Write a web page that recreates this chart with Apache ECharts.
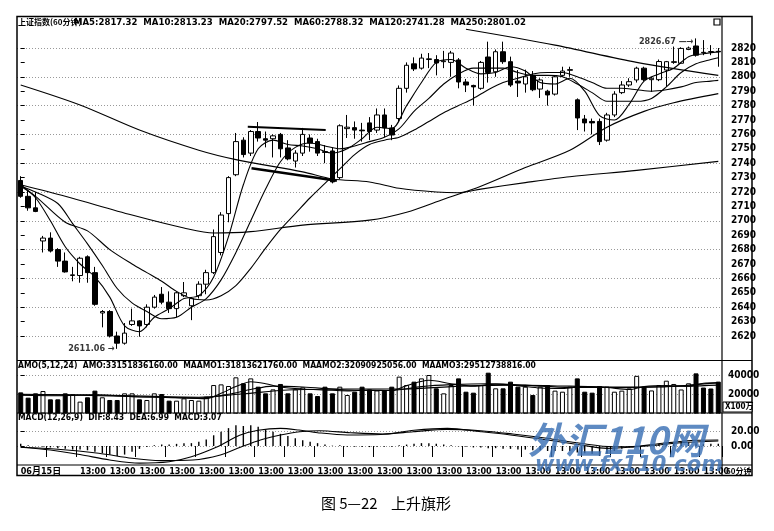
<!DOCTYPE html>
<html>
<head>
<meta charset="utf-8">
<title>上升旗形</title>
<script src="https://cdn.jsdelivr.net/npm/echarts@6/dist/echarts.min.js"></script>
<style>
html, body { margin: 0; padding: 0; background: #fff; }
#main { width: 774px; height: 531px; }
</style>
</head>
<body>
<div id="main"></div>
<script>
// 60分钟K线: [开, 收, 低, 高]
var kData = [
  [2728, 2717, 2716, 2731], [2717, 2709, 2707, 2721], [2709, 2706.5, 2706, 2720], [2686, 2688, 2678, 2689.5],
  [2688, 2679, 2678, 2692], [2680, 2672, 2668, 2681], [2672, 2664.5, 2664, 2678], [2662, 2662.5, 2658, 2668],
  [2662, 2674, 2657, 2675], [2675, 2664, 2657, 2676], [2664, 2642, 2641, 2668], [2636, 2637, 2626, 2638],
  [2637, 2620, 2619, 2638], [2620, 2615, 2611.06, 2623], [2615, 2622, 2614, 2629], [2628, 2630.5, 2627, 2639],
  [2630.5, 2627, 2619.5, 2631], [2628, 2640, 2626, 2642], [2640, 2647, 2639, 2648.5], [2649, 2643.5, 2642, 2654],
  [2643.5, 2639, 2636, 2651], [2639, 2650, 2633, 2651], [2648, 2650, 2647, 2657.5], [2641, 2646, 2631, 2647],
  [2648, 2656, 2646, 2658], [2656, 2664, 2649, 2666], [2664, 2689, 2663, 2694], [2678, 2704, 2676, 2706],
  [2705, 2730, 2699, 2731], [2732, 2755, 2731, 2761], [2756, 2746, 2744, 2758], [2747, 2762, 2745, 2763],
  [2762, 2757.5, 2755, 2768.6], [2757, 2756, 2751, 2762], [2757, 2759, 2744, 2760], [2760, 2750, 2744, 2761],
  [2750.6, 2743, 2742, 2756], [2741.5, 2747, 2737, 2749], [2747, 2760, 2745, 2764.5], [2757.5, 2754, 2748, 2760],
  [2755, 2747, 2745, 2757], [2748, 2747.5, 2740, 2752.6], [2748.5, 2727, 2726, 2751], [2730, 2766, 2729, 2767],
  [2764, 2765, 2757.5, 2773.5], [2764.7, 2763, 2757, 2769], [2763, 2762.5, 2755, 2768], [2768, 2762, 2756, 2772],
  [2763, 2773.5, 2761, 2778], [2773.5, 2764.5, 2758, 2778], [2764.5, 2759.6, 2756, 2766.6], [2771, 2792, 2769, 2794],
  [2792, 2808, 2789, 2810], [2809, 2805.5, 2804, 2813.5], [2806, 2813, 2805, 2816], [2812, 2812.5, 2806, 2816.5],
  [2812, 2809.6, 2801, 2815], [2810.5, 2811, 2806, 2818], [2810, 2816.5, 2800, 2818], [2811.7, 2796.4, 2792, 2813],
  [2796.4, 2794.3, 2789.4, 2798.5], [2794, 2793, 2780, 2794.5], [2792, 2810, 2791, 2811], [2813.75, 2803, 2796, 2824.4],
  [2803.5, 2817.4, 2800, 2819], [2817.4, 2810.5, 2809, 2824.4], [2810.5, 2794.3, 2793, 2814], [2797, 2795.7, 2786, 2804.7],
  [2795, 2800, 2789, 2805], [2801, 2791, 2790, 2804], [2791.5, 2797.8, 2785.3, 2799], [2790, 2787.4, 2780, 2791],
  [2788, 2800, 2787, 2801], [2801, 2804, 2800, 2807], [2804.5, 2805, 2800, 2807], [2784, 2771.4, 2763, 2785],
  [2770.7, 2768, 2762, 2773.5], [2769, 2768, 2760, 2771], [2769, 2755, 2752.6, 2771], [2756, 2773.5, 2755, 2775],
  [2773.5, 2788, 2772, 2790], [2789, 2794.3, 2788, 2797], [2794.3, 2796.6, 2793, 2799], [2797.8, 2806, 2796, 2807],
  [2806, 2798, 2797, 2807], [2798, 2799, 2789.5, 2800], [2798, 2810.6, 2797, 2812], [2804.7, 2810.5, 2793, 2811],
  [2810, 2810.5, 2809, 2821], [2809.4, 2819.7, 2809, 2820.5], [2819, 2820, 2818.5, 2821], [2821.4, 2815, 2814, 2826.67],
  [2817, 2816.7, 2815, 2825.5], [2817.5, 2817.4, 2815, 2822], [2817.7, 2817.3, 2807, 2820]
];

// 均线 [序号, 数值]
var ma5 = [[0,2725],[2,2716],[4,2700],[6,2682],[8,2670],[10,2661],[12,2647],[14,2627],[16,2623],[18,2633],[20,2639],[22,2646],[24,2648],[26,2661],[28,2689],[30,2725],[32,2750],[34,2756],[36,2753],[38,2752],[40,2750],[42,2747],[44,2750],[46,2757],[48,2765],[50,2764],[52,2780],[54,2796],[56,2810],[58,2812],[60,2806],[62,2802],[64,2803],[66,2807],[68,2804],[70,2796],[72,2795],[74,2799],[76,2790],[78,2773],[80,2770],[82,2781],[84,2797],[86,2802],[88,2806],[90,2814],[92,2816],[94,2817.32]];
var ma10 = [[0,2724],[2,2720],[5,2712],[7,2698],[9,2684],[11,2669],[13,2653],[15,2643],[17,2637],[19,2632],[21,2633],[23,2640],[25,2646],[27,2659],[29,2678],[31,2700],[33,2722],[35,2741],[37,2751],[39,2754],[41,2752],[43,2750],[45,2752],[47,2755],[49,2758],[51,2764],[53,2776],[55,2785],[57,2795],[59,2802],[61,2806],[63,2806],[65,2806],[67,2803],[69,2801],[71,2801],[73,2800],[75,2795],[77,2789],[79,2783],[81,2783],[83,2783],[85,2785],[87,2793],[89,2803],[91,2809],[93,2812],[94,2813.23]];
var ma20 = [[0,2724],[2,2717],[6,2699],[9,2693],[12,2680],[15,2670],[17,2664],[19,2658],[21,2651],[23,2646],[25,2645],[27,2648],[29,2655],[31,2667],[33,2681],[35,2694],[37,2705],[39,2716],[41,2726],[43,2736],[45,2746],[47,2753],[49,2756],[51,2758],[53,2763],[55,2769],[57,2775],[59,2780],[61,2785],[63,2791],[65,2796],[67,2799],[69,2802],[71,2803],[73,2803],[75,2800],[77,2796],[79,2792],[81,2792],[83,2791],[85,2790],[87,2791],[89,2793],[91,2796],[93,2797],[94,2797.52]];
var ma60 = [[0,2725],[6,2717],[15,2704],[22,2695],[26,2691.5],[31,2692.5],[38,2697],[47,2700.5],[52,2706],[57,2715],[62,2724],[68,2737],[74,2749],[79,2765],[84,2776],[88,2782],[94,2788.32]];
var ma120 = [[0,2794.3],[8,2780.4],[16,2763],[24,2749],[29,2742.5],[38,2734],[42,2729],[47,2727],[51,2722.6],[56,2720],[59,2719.5],[62,2722],[68,2726.5],[74,2730.6],[83,2735],[94,2741.28]];
var ma250 = [[60,2833],[72,2822],[83,2810],[94,2801.02]];

// 旗形上下边线
var flagTop = [[30.6, 2765.3], [41.1, 2763]];
var flagBottom = [[31.1, 2736.5], [42.6, 2727.8]];

// 成交额 (X100万)
var amo = [
  22000,16500,21000,23400,14800,14800,21000,20000,12400,16900,
  23800,16900,14100,14100,21000,21000,14800,14100,21000,20300,
  13400,13400,15800,14100,13400,17500,29600,30300,28600,37600,
  31400,36500,27900,21000,25100,30700,21000,25100,27200,21000,
  18200,27900,21000,27900,19300,22700,27900,25100,24000,24450,
  27900,38300,29600,33100,36500,40000,26200,21000,29600,36500,
  22700,21700,29600,42400,26200,26200,33100,27900,27900,19300,
  27900,29600,23800,22700,27900,36500,22700,21700,28600,27900,
  22700,23800,26200,39100,27900,24000,29600,34100,30700,25000,
  31400,41700,27000,26000,33150
];
var maamo1 = [[0,19000],[5,18500],[10,19500],[15,17500],[20,17000],[25,15500],[27,21000],[29,28000],[31,33000],[33,31000],[35,27500],[38,25500],[41,24500],[44,23500],[47,24500],[50,24000],[52,29000],[55,34500],[58,31000],[61,28500],[64,30500],[67,29000],[70,26500],[73,26000],[76,28000],[79,27000],[82,25000],[84,28000],[87,29000],[90,28500],[92,31500],[94,31814]];
var maamo2 = [[0,19500],[8,19000],[16,17500],[24,16000],[28,20000],[31,25000],[34,28500],[38,27500],[44,24500],[50,24000],[54,28000],[58,30000],[63,31000],[68,29500],[74,27000],[80,27000],[86,27500],[90,29500],[94,32091]];
var maamo3 = [[0,20000],[12,19000],[24,17000],[30,20500],[36,24500],[44,25500],[52,25500],[58,28000],[66,29500],[74,28500],[82,27500],[90,28500],[94,29513]];

// MACD
var macdBar = [
  3,1,0,-1,-2,-3,-4,-5,-5,-6,
  -8,-10,-12,-14,-12,-8,-4,-1.5,1,2,
  2,3,4,4,6,9,15,20,25,29,
  28,29,27,23,20,17,14,11,8,6,
  4,2,0.5,1,-1,-1,-1.5,-1.5,-1,-1,
  -1,1,2,3,4,4,3,2,1,-0.5,
  -1,-2,-2,-3,-3,-4,-4,-5,-5,-6,
  -6,-7,-7,-7,-7,-9,-10,-11,-14,-11,
  -7,-4,-2,0.5,1,2,3,4,4,5,
  5,4,3,3,3.07
];
var dif = [[0,-1.8],[4,-5.6],[8,-12],[12,-19.5],[16,-24],[20,-22],[23,-15],[26.5,-1],[29.5,15],[32,22],[35,24.7],[37.5,22.3],[40,18.6],[44,15.4],[48.5,16],[53,22],[57.5,24.7],[62,20],[66,15.4],[71,8.4],[75.5,1.4],[79,-3.3],[82,-1.8],[86.5,3.8],[91,8],[94,8.43]];
var dea = [[0,-1.8],[5,-4.6],[10.5,-10.2],[15,-17.2],[18.8,-20.5],[23.2,-19.6],[26.9,-12.6],[29.6,-1.8],[32.3,8.4],[35,15.4],[37.6,20],[40.3,21.4],[44.4,18.6],[48.8,16.8],[52.9,20],[57.4,23.3],[62,21.4],[66.3,16.8],[70.9,10.8],[75.4,3.8],[79.8,-1],[84.4,0],[88.9,4.6],[94,6.99]];

// 时间轴刻度
var tickIndex = [0, 8, 12, 16, 20, 24, 28, 32, 36, 40, 44, 48, 52, 56, 60, 64, 68, 72, 76, 80, 84, 88, 92];
var tickText = ['06月15日', '13:00', '13:00', '13:00', '13:00', '13:00', '13:00', '13:00', '13:00', '13:00', '13:00', '13:00',
  '13:00', '13:00', '13:00', '13:00', '13:00', '13:00', '13:00', '13:00', '13:00', '13:00', '13:00'];

// 标注
var lowMark = { idx: 13, value: 2611.06 };
var highMark = { idx: 91, value: 2826.67 };

var FONT = '"Liberation Sans Narrow", "DejaVu Sans Condensed", "Noto Sans CJK SC", sans-serif';
var CJK = '"Noto Sans CJK SC", sans-serif';
var N = kData.length;
var cats = kData.map(function (d, i) { return String(i); });

var myChart = echarts.init(document.getElementById('main'));

function lineSeries(name, data, xi, yi, width) {
  return {
    name: name, type: 'line', data: data, xAxisIndex: xi, yAxisIndex: yi,
    smooth: 0.3, showSymbol: false, symbol: 'none', clip: false, silent: true,
    lineStyle: { color: '#000', width: width || 1.1 }
  };
}

function hiddenValueX(grid) {
  return { type: 'value', gridIndex: grid, min: -0.5, max: N - 0.5, show: false };
}

var axisText = { color: '#000', fontSize: 10, fontWeight: 'bold', fontFamily: FONT };
var dotted = { show: true, lineStyle: { color: '#999', type: [1, 2], width: 1 } };

var volData = amo.map(function (v, i) {
  var up = kData[i][1] >= kData[i][0];
  return { value: v, itemStyle: up ? { color: '#fff', borderColor: '#000', borderWidth: 1 } : { color: '#000', borderColor: '#000', borderWidth: 1 } };
});

var option = {
  animation: false,
  backgroundColor: '#fff',
  grid: [
    { left: 17, right: 52, top: 48, height: 288 },
    { left: 17, right: 52, top: 375, height: 38.6 },
    { left: 17, right: 52, top: 431.7, height: 14.3 }
  ],
  xAxis: [
    { type: 'category', gridIndex: 0, data: cats, show: false },
    hiddenValueX(0),
    { type: 'category', gridIndex: 1, data: cats, show: false },
    hiddenValueX(1),
    {
      type: 'category', gridIndex: 2, data: cats, position: 'bottom', offset: 19,
      axisLine: { show: false },
      axisTick: {
        show: true, length: 11, lineStyle: { color: '#000', width: 1 },
        interval: function (idx) { return idx > 0 && idx % 4 === 0; }
      },
      axisLabel: {
        show: true, align: 'left', margin: 2, color: '#000', fontSize: 9, fontWeight: 'bold', fontFamily: FONT,
        interval: function (idx) { return tickIndex.indexOf(idx) >= 0; },
        formatter: function (v, idx) { var k = tickIndex.indexOf(idx); return k >= 0 ? tickText[k] : ''; }
      },
      splitLine: { show: false }
    },
    hiddenValueX(2)
  ],
  yAxis: [
    {
      type: 'value', gridIndex: 0, position: 'right', min: 2620, max: 2820, interval: 10,
      axisLine: { show: false }, axisTick: { show: true, length: 4, lineStyle: { color: '#000' } },
      axisLabel: Object.assign({ margin: 9, formatter: function (v) { return String(v); } }, axisText),
      splitLine: { show: false }
    },
    {
      type: 'value', gridIndex: 1, position: 'right', min: 0, max: 40000, interval: 20000,
      axisLine: { show: false }, axisTick: { show: true, length: 4, lineStyle: { color: '#000' } },
      axisLabel: Object.assign({ margin: 6, formatter: function (v) { return v === 0 ? '' : String(v); } }, axisText),
      splitLine: dotted
    },
    {
      type: 'value', gridIndex: 2, position: 'right', min: 0, max: 20, interval: 20,
      axisLine: { show: false }, axisTick: { show: true, length: 4, lineStyle: { color: '#000' } },
      axisLabel: Object.assign({ margin: 9, formatter: function (v) { return v.toFixed(2); } }, axisText),
      splitLine: dotted
    },
    {
      type: 'value', gridIndex: 0, position: 'right', min: 2620, max: 2820, interval: 20,
      axisLine: { show: false }, axisTick: { show: false }, axisLabel: { show: false },
      splitLine: dotted
    }
  ],
  series: [
    {
      name: 'K', type: 'candlestick', data: kData, xAxisIndex: 0, yAxisIndex: 0,
      barWidth: 5, clip: false, silent: true,
      itemStyle: { color: '#fff', color0: '#000', borderColor: '#000', borderColor0: '#000', borderWidth: 1 }
    },
    lineSeries('MA5', ma5, 1, 0),
    lineSeries('MA10', ma10, 1, 0),
    lineSeries('MA20', ma20, 1, 0),
    lineSeries('MA60', ma60, 1, 0),
    lineSeries('MA120', ma120, 1, 0),
    lineSeries('MA250', ma250, 1, 0, 1.2),
    Object.assign(lineSeries('flagTop', flagTop, 1, 0, 2), { smooth: false }),
    Object.assign(lineSeries('flagBottom', flagBottom, 1, 0, 2.5), { smooth: false }),
    {
      name: 'marks', type: 'scatter', xAxisIndex: 1, yAxisIndex: 0, silent: true, clip: false,
      symbolSize: 1, itemStyle: { color: 'rgba(0,0,0,0)' },
      label: { show: true, position: 'left', distance: 2, color: '#000', fontSize: 9, fontWeight: 'bold', fontFamily: FONT },
      data: [
        { value: [lowMark.idx, lowMark.value], label: { formatter: lowMark.value.toFixed(2) + ' →' } },
        { value: [highMark.idx, highMark.value], label: { formatter: highMark.value.toFixed(2) + ' —→', offset: [0, 3] } }
      ]
    },
    {
      name: 'AMO', type: 'bar', data: volData, xAxisIndex: 2, yAxisIndex: 1,
      barWidth: 5, clip: false, silent: true
    },
    lineSeries('MAAMO1', maamo1, 3, 1),
    lineSeries('MAAMO2', maamo2, 3, 1),
    lineSeries('MAAMO3', maamo3, 3, 1),
    {
      name: 'MACD', type: 'bar', data: macdBar, xAxisIndex: 4, yAxisIndex: 2,
      barWidth: 1.4, clip: false, silent: true, itemStyle: { color: '#000' }
    },
    lineSeries('DIF', dif, 5, 2),
    lineSeries('DEA', dea, 5, 2)
  ],
  graphic: [
    { type: 'rect', silent: true, z: 100, shape: { x: 17, y: 16.5, width: 735, height: 459 }, style: { fill: null, stroke: '#000', lineWidth: 1.5 } },
    { type: 'line', silent: true, z: 100, shape: { x1: 722, y1: 16.5, x2: 722, y2: 475.5 }, style: { stroke: '#000', lineWidth: 1.2 } },
    { type: 'line', silent: true, z: 100, shape: { x1: 17, y1: 360.5, x2: 752, y2: 360.5 }, style: { stroke: '#000', lineWidth: 1.2 } },
    { type: 'line', silent: true, z: 100, shape: { x1: 17, y1: 413, x2: 752, y2: 413 }, style: { stroke: '#000', lineWidth: 1.2 } },
    { type: 'line', silent: true, z: 100, shape: { x1: 17, y1: 465, x2: 752, y2: 465 }, style: { stroke: '#000', lineWidth: 1.2 } },
    { type: 'rect', silent: true, z: 100, shape: { x: 714, y: 19, width: 6, height: 6 }, style: { fill: '#fff', stroke: '#000', lineWidth: 1.2 } },
    { type: 'text', silent: true, z: 100, style: { text: '上证指数(60分钟)', x: 18, y: 18, font: 'bold 8px ' + CJK, fill: '#000', verticalAlign: 'top' } },
    { type: 'text', silent: true, z: 100, style: { text: 'MA5:2817.32  MA10:2813.23  MA20:2797.52  MA60:2788.32  MA120:2741.28  MA250:2801.02', x: 74, y: 18, font: 'bold 9.5px ' + FONT, fill: '#000', verticalAlign: 'top' } },
    { type: 'text', silent: true, z: 100, style: { text: 'AMO(5,12,24)  AMO:33151836160.00  MAAMO1:31813621760.00  MAAMO2:32090925056.00  MAAMO3:29512738816.00', x: 18, y: 361.5, font: 'bold 8.5px ' + FONT, fill: '#000', verticalAlign: 'top' } },
    { type: 'text', silent: true, z: 100, style: { text: 'MACD(12,26,9)  DIF:8.43  DEA:6.99  MACD:3.07', x: 18, y: 414, font: 'bold 8.5px ' + FONT, fill: '#000', verticalAlign: 'top' } },
    { type: 'rect', silent: true, z: 100, shape: { x: 723, y: 402, width: 29, height: 10 }, style: { fill: '#fff', stroke: '#000', lineWidth: 1 } },
    { type: 'text', silent: true, z: 101, style: { text: 'X100万', x: 725, y: 403, font: 'bold 8px ' + FONT, fill: '#000', verticalAlign: 'top' } },
    { type: 'text', silent: true, z: 101, style: { text: '60分钟', x: 726, y: 466.5, font: 'bold 8px ' + CJK, fill: '#000', verticalAlign: 'top' } },
    { type: 'text', silent: true, z: 110, style: { text: '外汇110网', x: 528, y: 421, font: 'italic bold 37px ' + CJK, fill: 'rgba(58,112,180,0.82)', verticalAlign: 'top' } },
    { type: 'text', silent: true, z: 110, style: { text: 'www.fx110.com', x: 535, y: 455, font: 'italic bold 21px "DejaVu Sans", sans-serif', fill: 'rgba(58,112,180,0.82)', verticalAlign: 'top' } },
    { type: 'text', silent: true, z: 100, style: { text: '图 5—22    上升旗形', x: 386, y: 503, font: '15px ' + CJK, fill: '#000', align: 'center', verticalAlign: 'middle' } }
  ]
};

myChart.setOption(option);
</script>
</body>
</html>
